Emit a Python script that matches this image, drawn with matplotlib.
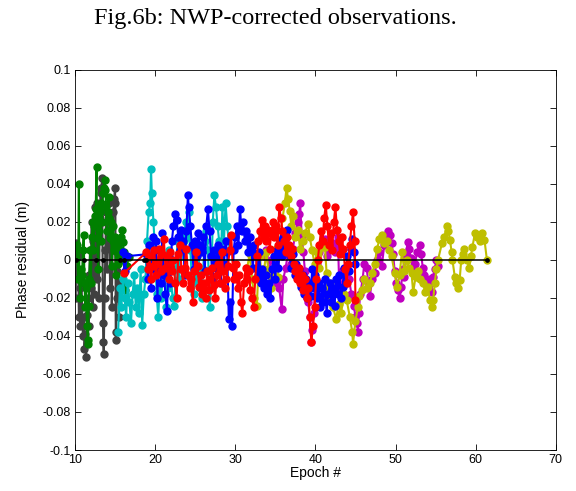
import matplotlib
matplotlib.use("Agg")
import matplotlib.pyplot as plt

title_text = "Fig.6b: NWP-corrected observations."
x_label = "Epoch #"
y_label = "Phase residual (m)"
x_ticks = [10, 20, 30, 40, 50, 60, 70]
y_ticks = [-0.1, -0.08, -0.06, -0.04, -0.02, 0, 0.02, 0.04, 0.06, 0.08, 0.1]
y_tick_labels = ["-0.1", "-0.08", "-0.06", "-0.04", "-0.02", "0", "0.02", "0.04", "0.06", "0.08", "0.1"]

gray_pts = [(10.1,-0.020),(10.2,0.009),(10.3,-0.005),(10.4,0.002),(10.5,-0.030),(10.6,-0.015),(10.7,-0.035),(10.8,-0.010),
            (10.9,-0.025),(11.0,-0.040),(11.1,-0.030),(11.2,-0.047),(11.3,-0.039),(11.4,-0.051),(11.5,-0.029),(11.6,-0.020),
            (11.7,-0.035),(11.8,-0.008),(11.9,0.005),(12.0,-0.015),(12.1,0.020),(12.2,-0.025),(12.3,0.010),(12.4,-0.018),
            (12.5,0.028),(12.6,0.015),(12.7,-0.010),(12.8,0.030),(12.9,0.010),(13.0,-0.020),(13.1,0.022),(13.2,0.035),
            (13.3,0.038),(13.4,0.043),(13.5,-0.033),(13.55,-0.043),(13.6,-0.0495),(13.7,-0.020),(13.8,0.005),(13.9,0.025),
            (14.0,-0.005),(14.1,0.015),(14.2,0.030),(14.3,0.010),(14.4,-0.015),(14.5,0.018),(14.6,-0.025),(14.7,0.005),
            (14.8,0.025),(14.9,0.032),(15.0,0.038),(15.05,0.030),(15.1,-0.042),(15.15,-0.038),(15.2,-0.020),(15.3,-0.006),
            (15.4,0.010),(15.5,-0.030),(15.6,-0.012)]

green_pts = [(10.25,0.008),(10.4,-0.010),(10.5,0.040),(10.55,-0.010),(10.7,-0.020),(10.8,-0.005),(10.9,-0.008),(11.0,0.005),
             (11.1,0.013),(11.2,-0.012),(11.3,-0.025),(11.4,-0.015),(11.5,-0.035),(11.6,-0.042),(11.65,-0.044),(11.7,-0.024),
             (11.8,-0.010),(11.9,0.005),(12.0,-0.012),(12.1,0.012),(12.2,0.020),(12.3,0.005),(12.4,0.018),(12.5,0.023),
             (12.6,0.027),(12.7,0.049),(12.75,0.020),(12.8,0.0115),(12.9,-0.005),(13.0,0.015),(13.1,0.025),(13.2,0.010),
             (13.3,0.030),(13.4,0.020),(13.5,0.035),(13.6,0.038),(13.7,0.042),(13.8,0.037),(13.9,0.028),(14.0,0.015),
             (14.1,0.025),(14.2,0.033),(14.3,0.022),(14.4,0.0115),(14.5,0.020),(14.6,-0.003),(14.7,0.010),(14.8,0.018),
             (14.9,0.005),(15.0,0.012),(15.1,-0.008),(15.2,0.004),(15.3,0.010),(15.4,-0.002),(15.5,0.006),(15.6,0.0095),
             (15.7,0.000),(15.8,0.012),(15.9,0.016),(16.0,0.0095),(16.1,0.004),(16.2,-0.016),(16.3,0.002),(16.5,-0.003),
             (16.7,0.0015)]

cyan_pts = [(15.4,-0.038),(15.6,-0.015),(15.8,-0.025),(16.0,-0.010),(16.2,-0.020),(16.4,-0.030),(16.6,-0.012),(16.8,-0.022),
            (17.0,-0.033),(17.2,-0.018),(17.4,-0.008),(17.6,-0.025),(17.8,-0.015),(18.0,-0.028),(18.2,-0.005),(18.4,-0.034),
            (18.6,-0.018),(18.8,-0.010),(19.0,0.010),(19.2,0.025),(19.4,0.030),(19.5,0.048),(19.6,0.035),(19.8,0.020),
            (20.0,0.005),(20.2,-0.018),(20.4,-0.030),(20.6,-0.012),(20.8,-0.020),(21.0,0.002),(21.2,-0.008),(21.4,-0.025),
            (21.6,-0.015),(21.8,0.005),(22.0,-0.012),(22.2,-0.020),(22.4,-0.024),(22.6,-0.005),(22.8,0.010),(23.0,-0.010),
            (23.2,0.002),(23.4,0.015),(23.6,0.010),(23.8,0.020),(24.0,0.012),(24.2,0.025),(24.4,0.005),(24.6,-0.010),
            (24.8,-0.018),(25.0,0.002),(25.2,-0.012),(25.4,0.008),(25.6,-0.015),(25.8,-0.020),(26.0,-0.005),(26.2,0.010),
            (26.4,0.015),(26.6,0.005),(26.8,-0.025),(27.0,-0.015),(27.2,0.020),(27.4,0.034),(27.6,0.028),(27.8,0.018),
            (28.0,0.010),(28.2,-0.005),(28.4,0.028),(28.6,0.010),(28.8,0.030),(29.0,0.018),(29.3,0.005)]

blue_pts = [(16.0,0.004),(16.2,-0.006),(16.5,0.002),
            (18.9,0.003),(19.1,-0.010),(19.3,0.008),(19.5,-0.015),(19.7,0.012),(19.9,-0.005),(20.1,0.010),(20.3,-0.020),
            (20.5,0.005),(20.7,-0.012),(20.9,0.014),(21.1,-0.008),(21.3,-0.018),(21.5,-0.027),(21.7,0.002),(21.9,-0.012),
            (22.1,0.010),(22.3,0.018),(22.5,0.024),(22.7,0.021),(22.9,0.012),(23.1,0.005),(23.3,0.016),(23.5,0.010),
            (23.7,-0.008),(23.9,0.015),(24.1,0.034),(24.2,0.028),(24.4,0.018),(24.6,0.008),(24.8,-0.005),(25.0,0.010),
            (25.2,0.002),(25.4,0.014),(25.6,0.008),(25.8,0.004),(26.0,0.012),(26.2,-0.006),(26.4,0.018),(26.6,0.027),
            (26.8,0.015),(27.0,0.002),(27.2,-0.010),(27.4,0.005),(27.6,-0.004),(27.8,0.008),(28.0,0.000),(28.2,-0.012),
            (28.4,0.006),(28.6,-0.002),(28.8,0.010),(29.0,0.004),(29.2,-0.031),(29.4,-0.022),(29.6,-0.035),(29.8,0.005),
            (30.0,0.012),(30.2,0.018),(30.4,0.008),(30.6,0.027),(30.8,0.015),(31.0,0.020),(31.2,0.010),(31.4,0.015),
            (31.6,0.004),(31.8,0.012),(32.0,0.006),(32.2,-0.004),(32.4,0.008),(32.6,0.002),(32.8,-0.008),(33.0,0.004),
            (33.2,-0.012),(33.4,-0.005),(33.6,-0.015),(33.8,-0.008),(34.0,-0.018),(34.2,-0.012),(34.4,-0.020),(34.6,-0.005),
            (34.8,0.002),(35.0,-0.010),(35.2,0.005),(35.4,-0.004),(35.6,0.010),(35.8,0.002),(36.0,0.012),(36.2,0.006),
            (36.4,0.016),(36.6,0.008),(36.8,0.002),(37.0,-0.004),(37.2,0.003),(37.4,-0.008),(37.6,-0.002),(37.8,-0.010),
            (38.0,-0.005),(38.2,-0.014),(38.4,-0.008),(38.6,-0.018),(38.8,-0.010),(39.0,-0.020),(39.2,-0.012),(39.4,-0.019),
            (39.6,-0.005),(39.8,-0.015),(40.0,-0.008),(40.2,-0.020),(40.4,-0.012),(40.6,-0.025),(40.8,-0.015),(41.0,-0.022),
            (41.2,-0.010),(41.4,-0.028),(41.6,-0.018),(41.8,-0.012),(42.0,-0.022),(42.2,-0.015),(42.4,-0.024),(42.6,-0.010),
            (42.8,-0.018),(43.0,-0.008),(43.2,-0.020),(43.4,-0.014),(43.6,-0.004),(43.8,-0.012),(44.0,0.002),(44.2,-0.006),
            (44.4,0.006),(44.6,0.011),(44.8,0.004),(45.0,-0.002)]

red_pts = [(16.1,-0.007),
           (18.9,0.004),(19.1,-0.005),(19.3,0.002),(19.5,-0.010),(19.7,-0.003),(19.9,0.005),(20.1,-0.008),(20.3,-0.002),
           (20.5,0.006),(20.7,-0.006),(20.9,0.003),(21.1,0.011),(21.3,-0.004),(21.5,0.002),(21.7,-0.010),(21.9,0.004),
           (22.1,-0.006),(22.3,0.000),(22.5,-0.012),(22.7,-0.020),(22.9,0.003),(23.1,0.008),(23.3,-0.005),(23.5,-0.012),
           (23.7,-0.004),(23.9,0.006),(24.1,-0.008),(24.3,-0.015),(24.5,-0.010),(24.7,-0.022),(24.9,-0.006),(25.1,0.004),
           (25.3,-0.003),(25.5,-0.014),(25.7,-0.008),(25.9,-0.018),(26.1,-0.012),(26.3,-0.020),(26.5,-0.006),(26.7,-0.016),
           (26.9,-0.010),(27.1,-0.004),(27.3,-0.013),(27.5,-0.020),(27.7,-0.008),(27.9,-0.002),(28.1,-0.012),(28.3,0.004),
           (28.5,-0.006),(28.7,-0.015),(28.9,-0.010),(29.1,-0.003),(29.3,0.005),(29.5,0.013),(29.7,-0.004),(29.9,-0.010),
           (30.1,-0.002),(30.3,-0.015),(30.5,-0.008),(30.7,-0.022),(30.9,-0.028),(31.1,-0.012),(31.3,-0.004),(31.5,-0.010),
           (31.7,-0.006),(31.9,-0.016),(32.1,-0.020),(32.3,-0.025),(32.5,-0.010),(32.7,0.002),(32.9,0.010),(33.1,0.015),
           (33.3,0.021),(33.5,0.012),(33.7,0.018),(33.9,0.010),(34.1,0.016),(34.3,0.006),(34.5,0.014),(34.7,0.020),
           (34.9,0.012),(35.1,0.018),(35.3,0.008),(35.5,0.028),(35.7,0.022),(35.9,0.015),(36.1,0.010),(36.3,0.004),
           (36.5,0.012),(36.7,0.008),(36.9,0.002),(37.1,0.006),(37.3,-0.002),(37.5,-0.006),(37.7,-0.010),(37.9,-0.004),
           (38.1,-0.012),(38.3,-0.008),(38.5,-0.016),(38.7,-0.010),(38.9,-0.020),(39.1,-0.015),(39.3,-0.030),(39.5,-0.043),
           (39.7,-0.035),(39.9,-0.025),(40.1,-0.010),(40.3,0.000),(40.5,0.008),(40.7,0.015),(40.9,0.010),(41.1,0.022),
           (41.3,0.029),(41.5,0.018),(41.7,0.008),(41.9,0.014),(42.1,0.005),(42.3,0.020),(42.5,0.028),(42.7,0.016),
           (42.9,0.010),(43.1,0.003),(43.3,0.012),(43.5,0.006),(43.7,-0.005),(43.9,-0.012),(44.1,-0.002),(44.3,0.008),
           (44.5,0.018),(44.7,0.025),(44.9,0.010),(45.0,-0.021)]

magenta_pts = [(33.6,0.002),(33.9,0.005),(34.2,-0.006),(34.5,0.000),(34.9,-0.004),(35.2,-0.012),(35.5,-0.015),(35.8,-0.026),
               (36.0,-0.010),(36.3,-0.004),(36.6,0.004),(36.9,-0.002),(37.2,0.006),(37.5,0.014),(37.8,0.020),(38.0,0.024),
               (38.1,0.030),(38.3,0.012),(38.5,0.004),(38.7,-0.006),(38.9,-0.014),(39.1,-0.022),(39.3,-0.030),(39.5,-0.043),
               (39.6,-0.037),(39.8,-0.028),(40.0,-0.012),(40.2,-0.002),(40.5,0.004),(40.9,0.009),(41.2,0.011),(41.5,0.002),
               (41.8,0.006),(42.2,0.009),(42.5,0.004),(42.8,0.012),(43.0,-0.016),(43.3,-0.006),(43.6,-0.012),(43.9,-0.004),
               (44.2,-0.010),(44.5,-0.018),(44.8,-0.024),(45.0,-0.030),(45.2,-0.033),(45.3,-0.038),(45.4,-0.028),(45.6,-0.018),
               (45.9,-0.010),(46.1,-0.002),(46.4,-0.004),(46.6,-0.012),(46.8,-0.019),(47.1,-0.010),(47.4,-0.007),(47.7,0.000),
               (48.0,0.004),(48.3,-0.003),(48.6,0.008),(48.8,0.012),(49.0,0.015),(49.3,0.013),(49.5,0.009),(49.7,0.003),
               (49.9,-0.006),(50.1,-0.012),(50.3,-0.016),(50.5,-0.020),(50.7,-0.014),(50.9,-0.005),(51.1,-0.009),(51.3,0.002),
               (51.5,0.0095),(51.7,0.006),(51.9,0.001),(52.1,-0.004),(52.4,-0.002),(52.7,0.004),(53.0,0.008),(53.2,0.003),
               (53.4,-0.004),(53.6,-0.008),(53.8,-0.011),(54.0,-0.014),(54.3,-0.010),(54.5,-0.017),(54.7,-0.009),(54.9,-0.005),
               (55.1,0.000),(55.3,-0.003)]

yellow_pts = [(31.5,-0.004),(31.8,0.003),(32.1,-0.010),(32.4,-0.020),(32.7,-0.024),(32.9,-0.005),(33.1,0.002),(33.3,-0.011),
              (33.6,-0.005),(33.9,0.004),(34.2,-0.008),(34.5,-0.015),(34.8,-0.004),(35.1,0.006),(35.3,-0.009),(35.6,0.010),
              (35.9,0.022),(36.2,0.030),(36.4,0.038),(36.6,0.032),(36.8,0.026),(37.0,0.018),(37.2,0.023),(37.5,0.012),
              (37.8,0.016),(38.1,0.006),(38.4,0.010),(38.7,0.014),(39.1,0.019),(39.3,0.012),(39.6,0.005),(39.9,-0.002),
              (40.2,0.004),(40.5,-0.004),(40.9,0.007),(41.2,0.007),(41.4,-0.007),(41.5,-0.019),(41.8,-0.012),(42.2,-0.025),
              (42.6,-0.031),(42.9,-0.023),(43.2,-0.028),(43.6,-0.018),(43.9,-0.021),(44.3,-0.030),(44.6,-0.038),(44.7,-0.044),
              (45.0,-0.032),(45.3,-0.025),(45.5,-0.019),(45.8,-0.016),(46.1,-0.010),(46.4,-0.015),(46.8,-0.012),(47.1,-0.007),
              (47.4,-0.002),(47.7,0.006),(48.0,0.011),(48.3,0.013),(48.6,0.009),(48.9,0.010),(49.2,0.005),(49.5,0.002),
              (49.9,-0.007),(50.2,-0.014),(50.5,-0.008),(50.8,0.004),(51.1,-0.006),(51.4,0.000),(51.7,-0.004),(52.0,-0.007),
              (52.2,-0.017),(52.5,-0.009),(52.8,-0.006),(53.1,-0.010),(53.4,-0.012),(53.7,-0.017),(54.0,-0.014),(54.3,-0.021),
              (54.5,-0.025),(54.7,-0.021),(54.9,-0.012),(55.1,-0.005),(55.3,0.000),(55.8,0.009),(56.1,0.012),(56.4,0.018),
              (56.6,0.015),(56.8,0.0105),(57.0,0.004),(57.1,0.000),(57.4,-0.009),(57.6,-0.012),(57.8,-0.015),(58.0,-0.0105),
              (58.2,0.000),(58.4,0.003),(58.6,0.006),(58.9,0.000),(59.2,-0.004),(59.4,0.002),(59.6,0.007),(59.9,0.014),
              (60.2,0.012),(60.5,0.010),(60.8,0.014),(61.1,0.0105),(61.4,0.000)]

black_x = [10.2, 11.2, 12.6, 13.5, 15.6, 16.1, 18.6, 18.9, 61.4]
black_y = [0, 0, 0, 0, 0, 0, 0, 0, 0]

series = [
    (gray_pts, (0.25, 0.25, 0.25)),
    (green_pts, (0.0, 0.5, 0.0)),
    (cyan_pts, (0.0, 0.75, 0.75)),
    (magenta_pts, (0.75, 0.0, 0.75)),
    (yellow_pts, (0.75, 0.75, 0.0)),
    (blue_pts, (0.0, 0.0, 1.0)),
    (red_pts, (1.0, 0.0, 0.0)),
]

plt.rcParams['font.family'] = ['Liberation Sans', 'DejaVu Sans']

fig = plt.figure(figsize=(5.76, 4.91), dpi=100)
ax = fig.add_axes([0.130, 0.0835, 0.835, 0.774])

for pts, col in series:
    xs = [p[0] for p in pts]
    ys = [p[1] for p in pts]
    ax.plot(xs, ys, '-o', color=col, lw=1.5, ms=5.0, mec=col, mfc=col)

ax.plot(black_x, black_y, '-o', color='black', lw=1.1, ms=2.4)

ax.set_xlim(10, 70)
ax.set_ylim(-0.1, 0.1)
ax.set_xticks(x_ticks)
ax.set_yticks(y_ticks)
ax.set_yticklabels(y_tick_labels)
ax.tick_params(direction='in', top=True, right=True, labelsize=9, length=4, width=0.6, pad=3)
for s in ax.spines.values():
    s.set_linewidth(0.6)
ax.set_xlabel(x_label, fontsize=10, labelpad=0)
ax.set_ylabel(y_label, fontsize=10, labelpad=9)

fig.text(0.478, 0.962, title_text, ha='center', va='center', fontsize=17.5,
         family=['Liberation Serif', 'DejaVu Serif'])

fig.savefig('out.png', dpi=100)
